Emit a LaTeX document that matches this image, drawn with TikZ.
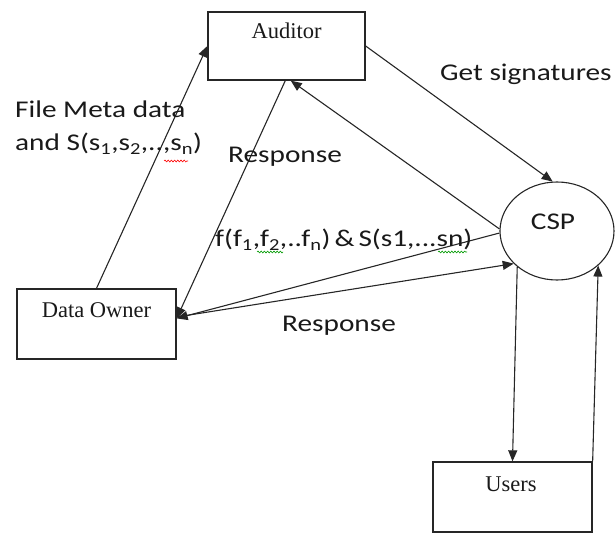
\documentclass[tikz,border=0pt]{standalone}
\usepackage{fontspec}
\setmainfont{Liberation Serif}
\newfontfamily\calib[FakeStretch=1.22]{Carlito}
\usetikzlibrary{arrows.meta,shapes.geometric,decorations.pathmorphing}
\begin{document}
\begin{tikzpicture}[x=1pt,y=-1pt,
  box/.style={draw=black!85, line width=1.3pt, rectangle, inner sep=0pt, minimum width=157pt, minimum height=68pt},
  cloud/.style={draw=black!85, line width=1.1pt, ellipse, inner sep=0pt, minimum width=114pt, minimum height=98pt},
  lbl/.style={font=\calib\fontsize{24}{28}\selectfont, text=black!90, inner sep=0pt, anchor=base west},
  ser/.style={font=\fontsize{22.5}{26}\selectfont, text=black!90, inner sep=0pt, anchor=base},
  arr/.style={draw=black!85, line width=1.1pt, -{Triangle[length=11pt,width=9pt]}},
  squig/.style={decorate, decoration={snake, amplitude=0.9pt, segment length=3.2pt}, line width=0.6pt}
]
\useasboundingbox (0,0) rectangle (616,534);

% boxes
\node[box] (aud) at (286.5,46) {};
\node[box, minimum width=159pt, minimum height=70pt] (do) at (96.5,324) {};
\node[box, minimum width=159pt, minimum height=70pt] (usr) at (512.5,497) {};
\node[cloud] (csp) at (557,231) {};

% box texts
\node[ser] (audT) at (286.5,39) {Auditor};
\node[ser] (doT) at (96.5,318) {Data Owner};
\node[ser] (usrT) at (511,491) {Users};
\node[lbl, anchor=base] (cspT) at (553,230) {CSP};

% connectors
\draw[arr] (do.north) -- (aud.west);
\draw[arr] (aud.-92) -- (do.4);
\draw[arr] (csp.178) -- (aud.-83);
\draw[arr] (aud.east) -- (csp.95);
\draw[arr] (csp.182) -- (do.4);
\draw[arr] (do.5) -- (csp.217);
\draw[arr] (csp.222) -- (usr.north);
\draw[arr] (usr.north east) -- (csp.-40);

% labels
\node[lbl] (l1) at (15,118) {File Meta data};
\node[lbl] (l2) at (15,151) {and S(s\textsubscript{1},s\textsubscript{2},..,s\textsubscript{n})};
\node[lbl] (l3) at (228,163) {Response};
\node[lbl] (l4) at (215,247) {f(f\textsubscript{1},f\textsubscript{2},..f\textsubscript{n})\,\&\,S(s1,...sn)};
\node[lbl] (l5) at (282,332) {Response};
\node[lbl] (l6) at (440,81) {Get signatures};

% spell-check squiggles
\draw[squig, red] (164,161) -- (188,161);
\draw[squig, green!60!black] (257,252) -- (283,252);
\draw[squig, green!60!black] (438,252) -- (467,252);
\end{tikzpicture}
\end{document}
